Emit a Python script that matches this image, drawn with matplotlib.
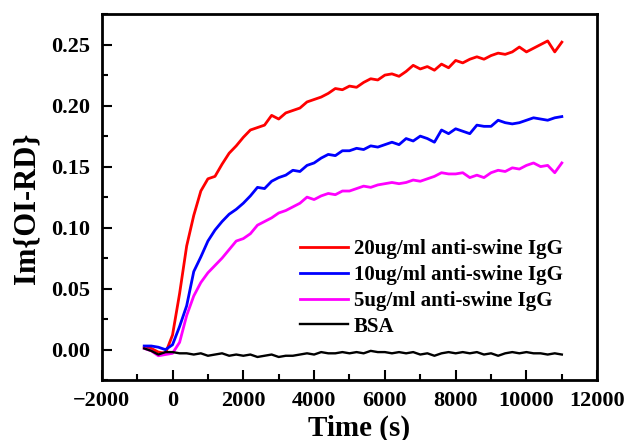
import matplotlib
matplotlib.use("Agg")
import matplotlib.pyplot as plt
from matplotlib.ticker import MultipleLocator

TIME = [-800, -600, -400, -200, 0, 200, 400, 600, 800, 1000,
        1200, 1400, 1600, 1800, 2000, 2200, 2400, 2600, 2800, 3000,
        3200, 3400, 3600, 3800, 4000, 4200, 4400, 4600, 4800, 5000,
        5200, 5400, 5600, 5800, 6000, 6200, 6400, 6600, 6800, 7000,
        7200, 7400, 7600, 7800, 8000, 8200, 8400, 8600, 8800, 9000,
        9200, 9400, 9600, 9800, 10000, 10200, 10400, 10600, 10800, 11000]

IGG_20 = [0.002, 0.001, -0.002, -0.003, 0.012, 0.046, 0.085, 0.110, 0.130, 0.140,
          0.142, 0.152, 0.161, 0.167, 0.174, 0.180, 0.182, 0.184, 0.192, 0.189,
          0.194, 0.196, 0.198, 0.203, 0.205, 0.207, 0.210, 0.214, 0.213, 0.216,
          0.215, 0.219, 0.222, 0.221, 0.225, 0.226, 0.224, 0.228, 0.233, 0.230,
          0.232, 0.229, 0.234, 0.231, 0.237, 0.235, 0.238, 0.240, 0.238, 0.241,
          0.243, 0.242, 0.244, 0.248, 0.244, 0.247, 0.250, 0.253, 0.244, 0.252]

IGG_10 = [0.003, 0.003, 0.002, 0.000, 0.004, 0.019, 0.036, 0.064, 0.076, 0.089,
          0.098, 0.105, 0.111, 0.115, 0.120, 0.126, 0.133, 0.132, 0.138, 0.141,
          0.143, 0.147, 0.146, 0.151, 0.153, 0.157, 0.160, 0.159, 0.163, 0.163,
          0.165, 0.164, 0.167, 0.166, 0.168, 0.170, 0.168, 0.173, 0.171, 0.175,
          0.173, 0.170, 0.180, 0.177, 0.181, 0.179, 0.177, 0.184, 0.183, 0.183,
          0.188, 0.186, 0.185, 0.186, 0.188, 0.190, 0.189, 0.188, 0.190, 0.191]

IGG_5 = [0.001, -0.001, -0.005, -0.004, -0.003, 0.006, 0.028, 0.044, 0.055, 0.063,
         0.069, 0.075, 0.082, 0.089, 0.091, 0.095, 0.102, 0.105, 0.108, 0.112,
         0.114, 0.117, 0.120, 0.125, 0.123, 0.126, 0.128, 0.127, 0.130, 0.130,
         0.132, 0.134, 0.133, 0.135, 0.136, 0.137, 0.136, 0.137, 0.139, 0.138,
         0.140, 0.142, 0.145, 0.144, 0.144, 0.145, 0.141, 0.143, 0.141, 0.145,
         0.147, 0.146, 0.149, 0.148, 0.151, 0.153, 0.150, 0.151, 0.145, 0.153]

BSA = [0.001, -0.001, -0.004, -0.002, -0.002, -0.003, -0.003, -0.004, -0.003, -0.005,
       -0.004, -0.003, -0.005, -0.004, -0.005, -0.004, -0.006, -0.005, -0.004, -0.006,
       -0.005, -0.005, -0.004, -0.003, -0.004, -0.002, -0.003, -0.003, -0.002, -0.003,
       -0.002, -0.003, -0.001, -0.002, -0.002, -0.003, -0.002, -0.003, -0.002, -0.004,
       -0.003, -0.005, -0.003, -0.002, -0.003, -0.002, -0.003, -0.002, -0.004, -0.003,
       -0.005, -0.003, -0.002, -0.003, -0.002, -0.003, -0.003, -0.004, -0.003, -0.004]

LABELS = ["20ug/ml anti-swine IgG", "10ug/ml anti-swine IgG",
          "5ug/ml anti-swine IgG", "BSA"]

# -- Style -----------------------------------------------------------------
plt.rcParams["font.family"] = "Liberation Serif"
plt.rcParams["font.weight"] = "bold"

fig = plt.figure(figsize=(6.28, 4.4), dpi=100)
ax = fig.add_axes([0.162, 0.136, 0.789, 0.832])

ax.plot(TIME, IGG_20, color="#FF0000", lw=2.0, label=LABELS[0])
ax.plot(TIME, IGG_10, color="#0000FF", lw=2.0, label=LABELS[1])
ax.plot(TIME, IGG_5, color="#FF00FF", lw=2.0, label=LABELS[2])
ax.plot(TIME, BSA, color="black", lw=1.7, label=LABELS[3])

ax.set_xlim(-2000, 12000)
ax.set_ylim(-0.025, 0.275)
ax.xaxis.set_major_locator(MultipleLocator(2000))
ax.xaxis.set_minor_locator(MultipleLocator(1000))
ax.yaxis.set_major_locator(MultipleLocator(0.05))
ax.yaxis.set_minor_locator(MultipleLocator(0.025))
ax.yaxis.set_major_formatter(plt.FormatStrFormatter("%.2f"))

ax.tick_params(which="major", direction="in", length=7, width=1.5,
               labelsize=16, pad=8, top=False, right=False)
ax.tick_params(which="minor", direction="in", length=4, width=1.5,
               top=False, right=False)
for lab in ax.get_xticklabels() + ax.get_yticklabels():
    lab.set_fontweight("bold")
for sp in ax.spines.values():
    sp.set_linewidth(2.0)

ax.set_xlabel("Time (s)", fontsize=21, fontweight="bold")
ax.set_ylabel("Im{OI-RD}", fontsize=22, fontweight="bold")
ax.xaxis.set_label_coords(0.519, -0.093)
ax.yaxis.set_label_coords(-0.122, 0.47)

ax.legend(loc="upper left", bbox_to_anchor=(0.40, 0.385), frameon=False,
          handlelength=2.3, handletextpad=0.3,
          labelspacing=0.28, borderpad=0, borderaxespad=0,
          prop={"weight": "bold", "size": 15})

fig.savefig("out.png", dpi=100, facecolor="white")
